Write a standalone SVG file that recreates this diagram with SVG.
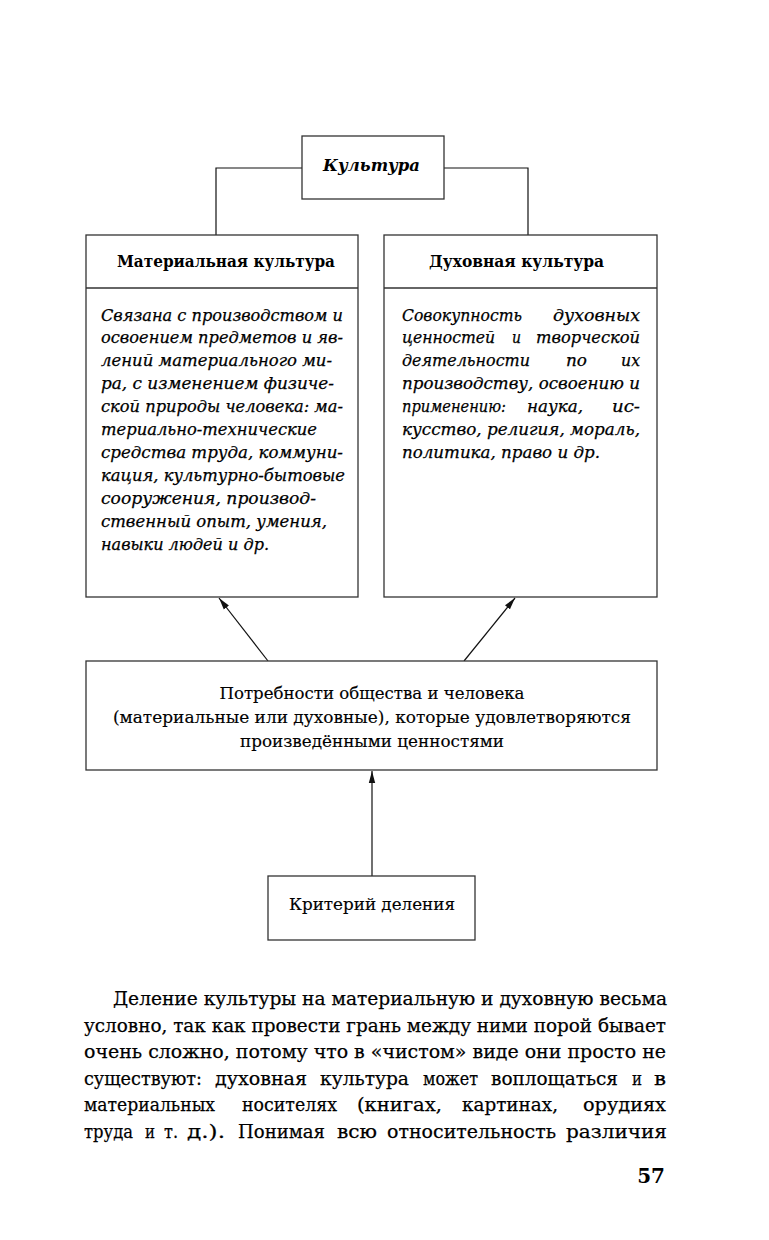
<svg xmlns="http://www.w3.org/2000/svg" width="769" height="1240" viewBox="0 0 769 1240">
<defs>
<style>
.box{fill:#fff;stroke:#333;stroke-width:1.3}
.con{fill:none;stroke:#111;stroke-width:1.2}
text{font-family:"DejaVu Serif","Liberation Serif",serif;fill:#000}
.it{font-size:16px;font-style:italic;stroke:#000;stroke-width:0.25}
.hd{font-size:16px;font-weight:bold}
.ti{font-size:17px;font-weight:bold;font-style:italic}
.rg{font-size:17px;stroke:#000;stroke-width:0.15}
.pg{font-size:19px;stroke:#000;stroke-width:0.25}
.pn{font-size:20px;font-weight:bold}
</style>
<marker id="ah" viewBox="0 0 12 8" refX="12" refY="4" markerWidth="12" markerHeight="8" markerUnits="userSpaceOnUse" orient="auto">
<path d="M0,0.8 L12,4 L0,7.2 Z" fill="#111"/>
</marker>
</defs>
<rect width="769" height="1240" fill="#fff"/>

<g id="connectors">
<path class="con" d="M302,168 H216 V235"/>
<path class="con" d="M444,168 H528 V235"/>
<line class="con" x1="268" y1="661" x2="219" y2="598" marker-end="url(#ah)"/>
<line class="con" x1="464" y1="661" x2="515" y2="598" marker-end="url(#ah)"/>
<line class="con" x1="372" y1="876" x2="372" y2="771" marker-end="url(#ah)"/>
</g>

<g id="kultura">
<rect class="box" x="302" y="136" width="142" height="63"/>
<text class="ti" x="323" y="171" textLength="97" lengthAdjust="spacingAndGlyphs">Культура</text>
</g>

<g id="material">
<rect class="box" x="86" y="235" width="272" height="362"/>
<line class="box" x1="86" y1="288" x2="358" y2="288"/>
<text class="hd" x="117" y="267" textLength="218" lengthAdjust="spacingAndGlyphs">Материальная культура</text>
<text class="it" x="101" y="320.5" textLength="242" lengthAdjust="spacingAndGlyphs">Связана с производством и</text>
<text class="it" x="101" y="343.4" textLength="242" lengthAdjust="spacingAndGlyphs">освоением предметов и яв-</text>
<text class="it" x="101" y="366.3" textLength="231" lengthAdjust="spacingAndGlyphs">лений материального ми-</text>
<text class="it" x="101" y="389.2" textLength="233" lengthAdjust="spacingAndGlyphs">ра, с изменением физиче-</text>
<text class="it" x="101" y="412.1" textLength="242" lengthAdjust="spacingAndGlyphs">ской природы человека: ма-</text>
<text class="it" x="101" y="435" textLength="216" lengthAdjust="spacingAndGlyphs">териально-технические</text>
<text class="it" x="101" y="457.9" textLength="242" lengthAdjust="spacingAndGlyphs">средства труда, коммуни-</text>
<text class="it" x="101" y="480.8" textLength="244" lengthAdjust="spacingAndGlyphs">кация, культурно-бытовые</text>
<text class="it" x="101" y="503.7" textLength="215" lengthAdjust="spacingAndGlyphs">сооружения, производ-</text>
<text class="it" x="101" y="526.6" textLength="226" lengthAdjust="spacingAndGlyphs">ственный опыт, умения,</text>
<text class="it" x="101" y="549.5" textLength="168" lengthAdjust="spacingAndGlyphs">навыки людей и др.</text>
</g>

<g id="spiritual">
<rect class="box" x="384" y="235" width="273" height="362"/>
<line class="box" x1="384" y1="288" x2="657" y2="288"/>
<text class="hd" x="429" y="267" textLength="175" lengthAdjust="spacingAndGlyphs">Духовная культура</text>
<text class="it" x="402" y="320.5" textLength="120" lengthAdjust="spacingAndGlyphs">Совокупность</text>
<text class="it" x="553" y="320.5" textLength="87" lengthAdjust="spacingAndGlyphs">духовных</text>
<text class="it" x="402" y="343.4" textLength="93" lengthAdjust="spacingAndGlyphs">ценностей</text>
<text class="it" x="512" y="343.4" textLength="9" lengthAdjust="spacingAndGlyphs">и</text>
<text class="it" x="536" y="343.4" textLength="104" lengthAdjust="spacingAndGlyphs">творческой</text>
<text class="it" x="402" y="366.3" textLength="128" lengthAdjust="spacingAndGlyphs">деятельности</text>
<text class="it" x="566" y="366.3" textLength="21" lengthAdjust="spacingAndGlyphs">по</text>
<text class="it" x="621" y="366.3" textLength="19" lengthAdjust="spacingAndGlyphs">их</text>
<text class="it" x="402" y="389.2" textLength="238" lengthAdjust="spacingAndGlyphs">производству, освоению и</text>
<text class="it" x="402" y="412.1" textLength="104" lengthAdjust="spacingAndGlyphs">применению:</text>
<text class="it" x="527" y="412.1" textLength="56" lengthAdjust="spacingAndGlyphs">наука,</text>
<text class="it" x="612" y="412.1" textLength="28" lengthAdjust="spacingAndGlyphs">ис-</text>
<text class="it" x="402" y="435" textLength="238" lengthAdjust="spacingAndGlyphs">кусство, религия, мораль,</text>
<text class="it" x="402" y="457.9" textLength="198" lengthAdjust="spacingAndGlyphs">политика, право и др.</text>
</g>

<g id="needs">
<rect class="box" x="86" y="661" width="571" height="109"/>
<text class="rg" x="372" y="699" text-anchor="middle" textLength="305" lengthAdjust="spacingAndGlyphs">Потребности общества и человека</text>
<text class="rg" x="372" y="723" text-anchor="middle" textLength="518" lengthAdjust="spacingAndGlyphs">(материальные или духовные), которые удовлетворяются</text>
<text class="rg" x="372" y="747" text-anchor="middle" textLength="264" lengthAdjust="spacingAndGlyphs">произведёнными ценностями</text>
</g>

<g id="criterion">
<rect class="box" x="268" y="876" width="207" height="64"/>
<text class="rg" x="372" y="910" text-anchor="middle" textLength="166" lengthAdjust="spacingAndGlyphs">Критерий деления</text>
</g>

<g id="paragraph">
<text class="pg" x="113" y="1005" textLength="554" lengthAdjust="spacingAndGlyphs">Деление культуры на материальную и духовную весьма</text>
<text class="pg" x="84" y="1031.5" textLength="582" lengthAdjust="spacingAndGlyphs">условно, так как провести грань между ними порой бывает</text>
<text class="pg" x="84" y="1058" textLength="582" lengthAdjust="spacingAndGlyphs">очень сложно, потому что в «чистом» виде они просто не</text>
<text class="pg" x="84" y="1084.5" textLength="118" lengthAdjust="spacingAndGlyphs">существуют:</text>
<text class="pg" x="215" y="1084.5" textLength="92" lengthAdjust="spacingAndGlyphs">духовная</text>
<text class="pg" x="320" y="1084.5" textLength="89" lengthAdjust="spacingAndGlyphs">культура</text>
<text class="pg" x="423" y="1084.5" textLength="55" lengthAdjust="spacingAndGlyphs">может</text>
<text class="pg" x="491" y="1084.5" textLength="127" lengthAdjust="spacingAndGlyphs">воплощаться</text>
<text class="pg" x="632" y="1084.5" textLength="10" lengthAdjust="spacingAndGlyphs">и</text>
<text class="pg" x="654" y="1084.5" textLength="12" lengthAdjust="spacingAndGlyphs">в</text>
<text class="pg" x="84" y="1111" textLength="131" lengthAdjust="spacingAndGlyphs">материальных</text>
<text class="pg" x="242" y="1111" textLength="95" lengthAdjust="spacingAndGlyphs">носителях</text>
<text class="pg" x="357" y="1111" textLength="85" lengthAdjust="spacingAndGlyphs">(книгах,</text>
<text class="pg" x="462" y="1111" textLength="96" lengthAdjust="spacingAndGlyphs">картинах,</text>
<text class="pg" x="583" y="1111" textLength="83" lengthAdjust="spacingAndGlyphs">орудиях</text>
<text class="pg" x="84" y="1137.5" textLength="49" lengthAdjust="spacingAndGlyphs">труда</text>
<text class="pg" x="145" y="1137.5" textLength="10" lengthAdjust="spacingAndGlyphs">и</text>
<text class="pg" x="164" y="1137.5" textLength="14" lengthAdjust="spacingAndGlyphs">т.</text>
<text class="pg" x="187" y="1137.5" textLength="38" lengthAdjust="spacingAndGlyphs">д.).</text>
<text class="pg" x="238" y="1137.5" textLength="87" lengthAdjust="spacingAndGlyphs">Понимая</text>
<text class="pg" x="337" y="1137.5" textLength="40" lengthAdjust="spacingAndGlyphs">всю</text>
<text class="pg" x="387" y="1137.5" textLength="169" lengthAdjust="spacingAndGlyphs">относительность</text>
<text class="pg" x="566" y="1137.5" textLength="101" lengthAdjust="spacingAndGlyphs">различия</text>
<text class="pn" x="665" y="1183" text-anchor="end">57</text>
</g>
</svg>
